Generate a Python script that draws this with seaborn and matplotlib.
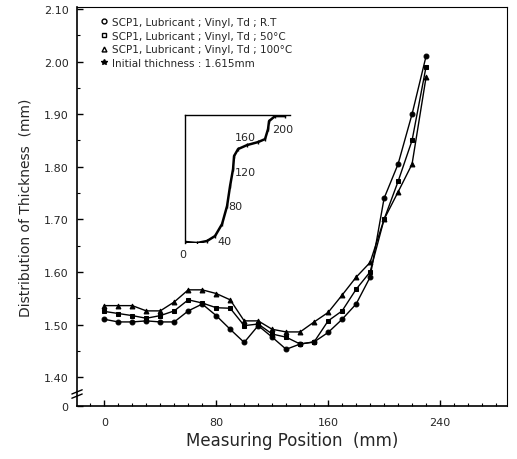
import numpy as np
import pandas as pd
import matplotlib
matplotlib.use("Agg")
import matplotlib.pyplot as plt
import seaborn as sns
from matplotlib.lines import Line2D
from matplotlib.ticker import FixedLocator, MultipleLocator

# ---------------- data ----------------
positions = [0, 10, 20, 30, 40, 50, 60, 70, 80, 90, 100, 110,
             120, 130, 140, 150, 160, 170, 180, 190, 200, 210, 220, 230]
thick_rt = [1.510, 1.505, 1.505, 1.507, 1.505, 1.505, 1.526, 1.539, 1.517, 1.491, 1.466, 1.498,
            1.476, 1.453, 1.463, 1.467, 1.485, 1.510, 1.539, 1.590, 1.740, 1.805, 1.900, 2.010]
thick_50 = [1.525, 1.521, 1.517, 1.512, 1.517, 1.526, 1.547, 1.541, 1.532, 1.531, 1.498, 1.501,
            1.482, 1.476, 1.463, 1.467, 1.507, 1.526, 1.567, 1.600, 1.700, 1.772, 1.850, 1.990]
thick_100 = [1.536, 1.536, 1.536, 1.526, 1.526, 1.543, 1.566, 1.566, 1.559, 1.547, 1.507, 1.507,
             1.491, 1.486, 1.486, 1.505, 1.523, 1.556, 1.590, 1.618, 1.700, 1.752, 1.805, 1.970]
series_labels = ["SCP1, Lubricant ; Vinyl, Td ; R.T",
                 "SCP1, Lubricant ; Vinyl, Td ; 50°C",
                 "SCP1, Lubricant ; Vinyl, Td ; 100°C"]
initial_label = "Initial thichness : 1.615mm"
y_ticks = [1.40, 1.50, 1.60, 1.70, 1.80, 1.90, 2.00, 2.10]
y_ticklabels = ["1.40", "1.50", "1.60", "1.70", "1.80", "1.90", "2.00", "2.10"]
x_ticks = [0, 80, 160, 240]

# inset profile (sketch of initial blank section)
inset_u = [0, 12, 22, 30, 37, 42, 45, 48, 49, 53, 62, 73, 80, 83, 84, 90, 100]
inset_v = [1, 0, 2, 7, 19, 37, 57, 74, 87, 94, 98, 101, 104, 114, 122, 127, 127]
inset_labels = ["0", "40", "80", "120", "160", "200"]

# ---------------- figure ----------------
sns.set_style("ticks")
plt.rcParams["font.family"] = ["DejaVu Sans"]
plt.rcParams["xtick.direction"] = "in"
plt.rcParams["ytick.direction"] = "in"

fig = plt.figure(figsize=(5.17, 4.60), dpi=100)
ax = fig.add_axes([0.149, 0.115, 0.832, 0.868])

df = pd.DataFrame({
    "pos": positions * 3,
    "thick": thick_rt + thick_50 + thick_100,
    "series": [series_labels[0]] * len(positions)
              + [series_labels[1]] * len(positions)
              + [series_labels[2]] * len(positions),
})

sns.lineplot(data=df, x="pos", y="thick", style="series",
             markers=["o", "s", "^"], dashes=False, color="black",
             markersize=3.5, linewidth=1.0, markeredgecolor="black",
             legend=False, ax=ax)

ax.set_xlim(-19.5, 288)
ax.set_ylim(1.345, 2.104)
ax.xaxis.set_major_locator(FixedLocator(x_ticks))
ax.xaxis.set_minor_locator(MultipleLocator(10))
ax.yaxis.set_major_locator(FixedLocator(y_ticks + [1.345]))
ax.set_yticklabels(y_ticklabels + ["0"])
ax.yaxis.set_minor_locator(FixedLocator(list(np.arange(1.45, 2.1, 0.1))))
ax.tick_params(which="major", length=4, width=1, labelsize=8, color="black")
ax.tick_params(which="minor", length=2.5, width=0.8, color="black")
ax.tick_params(axis="x", pad=8)
ax.tick_params(axis="y", pad=6)
for s in ax.spines.values():
    s.set_linewidth(1.2)
    s.set_color("black")
ax.spines["top"].set_linewidth(0.8)
ax.spines["right"].set_linewidth(0.8)

ax.set_xlabel("Measuring Position  (mm)", fontsize=12, labelpad=3)
ax.set_ylabel("Distribution of Thickness  (mm)", fontsize=10, labelpad=8)

# axis break marks on left spine
trans = ax.get_yaxis_transform()
for yy in (1.364, 1.372):
    ax.plot([-0.012, 0.012], [yy - 0.004, yy + 0.004], transform=trans,
            color="black", lw=1, clip_on=False)

# legend
handles = [
    Line2D([], [], ls="none", marker="o", mfc="white", mec="black", ms=3.5, mew=1),
    Line2D([], [], ls="none", marker="s", mfc="white", mec="black", ms=3.5, mew=1),
    Line2D([], [], ls="none", marker="^", mfc="white", mec="black", ms=3.5, mew=1),
    Line2D([], [], ls="none", marker="*", color="black", ms=4),
]
ax.legend(handles, series_labels + [initial_label], loc="upper left",
          bbox_to_anchor=(0.045, 0.985), frameon=False, fontsize=7.5,
          handlelength=0.6, handletextpad=0.5, labelspacing=0.35,
          borderaxespad=0)

# inset sketch
axi = fig.add_axes([0.358, 0.4696, 0.203, 0.278])
axi.plot(inset_u, inset_v, color="black", lw=1.8, marker="|", ms=3)
axi.set_xlim(0, 105)
axi.set_ylim(0, 128)
axi.set_xticks([])
axi.set_yticks([])
axi.patch.set_alpha(0)
for side in ("bottom", "right"):
    axi.spines[side].set_visible(False)
for side in ("left", "top"):
    axi.spines[side].set_linewidth(1.0)
    axi.spines[side].set_color("black")
label_pos = [(-2, -11, "center"), (32, 2, "left"), (43, 37, "left"),
             (50, 71, "left"), (60, 106, "center"), (87, 114, "left")]
for (u, v, ha), t in zip(label_pos, inset_labels):
    axi.text(u, v, t, fontsize=8, ha=ha, va="center", clip_on=False)

fig.savefig("out.png", dpi=100)
